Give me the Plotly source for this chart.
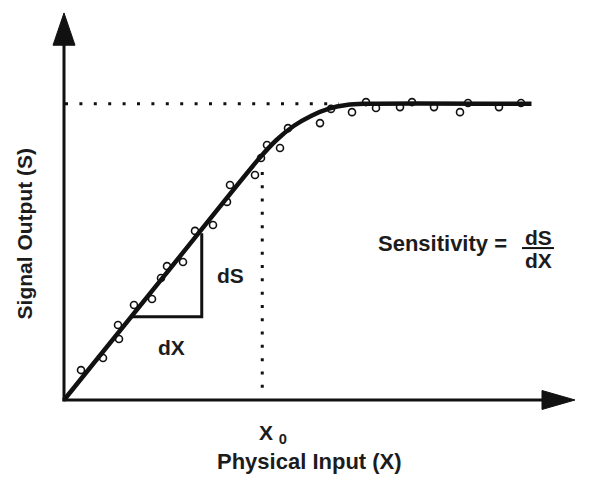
import plotly.graph_objects as go

# ---- data (arbitrary units) ----
meas_x = [6.8, 15.6, 22.0, 21.6, 28.0, 35.2, 38.8, 41.2, 47.6, 52.4, 59.6, 65.2,
          66.4, 76.4, 78.8, 81.2, 86.4, 89.6, 102.4, 106.8, 115.2, 120.8, 124.8,
          134.4, 139.2, 148.0, 158.4, 161.6, 174.0, 182.8]
meas_y = [10.1, 14.2, 20.6, 25.3, 32.1, 34.1, 41.2, 45.2, 46.6, 57.1, 59.1, 66.9,
          72.6, 76.0, 81.7, 86.1, 85.1, 91.8, 93.5, 98.3, 97.2, 100.6, 98.6,
          98.9, 100.6, 98.9, 97.2, 100.3, 98.9, 100.3]

fit_x = [0, 40, 78, 85, 92, 99, 106, 113, 120, 187]
fit_y = [0, 41.8, 81.5, 87.8, 92.6, 96.0, 98.4, 99.6, 100, 100]

plateau_level = 100
x0_value = 79.3
x0_dotted_top = 77
plateau_dotted_end = 110

tri_x = [27.1, 55.1]   # dX span
tri_y = [28.1, 56.3]   # dS span

X_RANGE = [-25.6, 215.6]
Y_RANGE = [-32.42, 135.07]

INK = "#111111"
TXT = "#1c1c1c"
FONT = "Liberation Sans, Arial, Helvetica, sans-serif"

fig = go.Figure()

fig.add_trace(go.Scatter(
    x=fit_x, y=fit_y, mode="lines",
    line=dict(color=INK, width=4.5, shape="spline", smoothing=0.8),
    hoverinfo="skip", showlegend=False))

fig.add_trace(go.Scatter(
    x=meas_x, y=meas_y, mode="markers",
    marker=dict(symbol="circle-open", size=7, color=INK, line=dict(width=1.6, color=INK)),
    hoverinfo="skip", showlegend=False))

shapes = []
# axes
shapes.append(dict(type="line", x0=0, y0=-0.4, x1=0, y1=120.5, line=dict(color=INK, width=3)))
shapes.append(dict(type="path", path="M -4.4 119.8 L 0 130.7 L 4.4 119.8 Z",
                   fillcolor=INK, line=dict(color=INK, width=1)))
shapes.append(dict(type="line", x0=-0.6, y0=0, x1=192, y1=0, line=dict(color=INK, width=3)))
shapes.append(dict(type="path", path="M 191.2 3.2 L 204.4 0 L 191.2 -3.2 Z",
                   fillcolor=INK, line=dict(color=INK, width=1)))
# dotted reference lines
shapes.append(dict(type="line", x0=0.4, y0=plateau_level, x1=plateau_dotted_end, y1=plateau_level,
                   line=dict(color=INK, width=3, dash="3px,11.4px")))
shapes.append(dict(type="line", x0=x0_value, y0=x0_dotted_top, x1=x0_value, y1=2.0,
                   line=dict(color=INK, width=3, dash="3px,10.3px")))
# slope triangle
shapes.append(dict(type="path",
                   path=f"M {tri_x[0]} {tri_y[0]} L {tri_x[1]} {tri_y[0]} L {tri_x[1]} {tri_y[1]}",
                   line=dict(color=INK, width=3)))
# fraction bar
shapes.append(dict(type="line", x0=183.2, y0=51.3, x1=196.0, y1=51.3, line=dict(color=INK, width=2)))

def ann(text, x, y, size=21, **kw):
    d = dict(text=text, x=x, y=y, xref="x", yref="y", showarrow=False,
             font=dict(family=FONT, size=size, color=TXT, weight="bold"),
             xanchor="center", yanchor="middle")
    d.update(kw)
    return d

annotations = [
    ann("dS", 66.4, 42.1),
    ann("dX", 42.8, 17.7),
    ann("X <sub>0</sub>", 83.4, -11.6),
    ann("Physical Input (X)", 98.0, -20.9, size=22),
    ann("Signal Output (S)", -16.0, 55.9, textangle=-90),
    ann("Sensitivity =", 151.2, 53.0, size=22),
    ann("dS", 189.6, 54.9),
    ann("dX", 189.6, 47.0),
]

fig.update_layout(
    width=603, height=496,
    margin=dict(l=0, r=0, t=0, b=0),
    paper_bgcolor="white", plot_bgcolor="white",
    xaxis=dict(range=X_RANGE, visible=False, fixedrange=True),
    yaxis=dict(range=Y_RANGE, visible=False, fixedrange=True),
    shapes=shapes, annotations=annotations,
    showlegend=False, hovermode=False,
)

fig.write_html("out.html", config={"displayModeBar": False})
